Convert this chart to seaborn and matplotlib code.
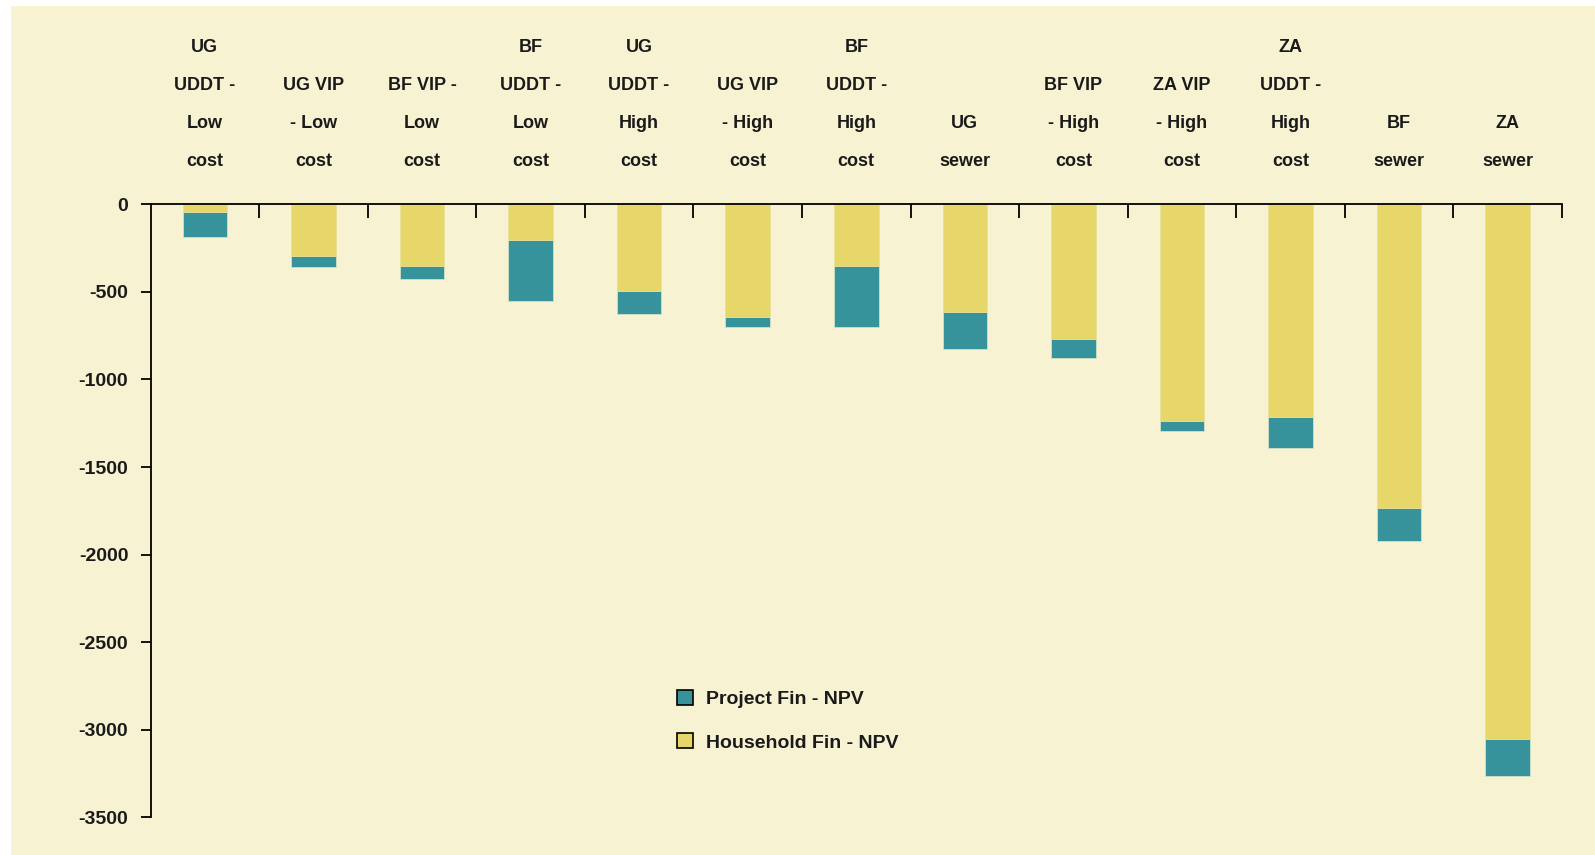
import numpy as np
import pandas as pd
import matplotlib
matplotlib.use("Agg")
import matplotlib.pyplot as plt
from matplotlib.patches import Patch, Rectangle
import seaborn as sns

# Sanitation options (country + technology + cost scenario)
categories = [
    "UG\nUDDT -\nLow\ncost",
    "UG VIP\n- Low\ncost",
    "BF VIP -\nLow\ncost",
    "BF\nUDDT -\nLow\ncost",
    "UG\nUDDT -\nHigh\ncost",
    "UG VIP\n- High\ncost",
    "BF\nUDDT -\nHigh\ncost",
    "UG\nsewer",
    "BF VIP\n- High\ncost",
    "ZA VIP\n- High\ncost",
    "ZA\nUDDT -\nHigh\ncost",
    "BF\nsewer",
    "ZA\nsewer",
]

# Net present values per option
household_npv = [-45, -297, -349, -202, -493, -642, -349, -615, -771, -1236, -1213, -1732, -3057]
project_npv = [-138, -59, -76, -352, -130, -59, -352, -210, -105, -61, -180, -188, -206]

y_ticks = [0, -500, -1000, -1500, -2000, -2500, -3000, -3500]
legend_labels = ["Project Fin - NPV", "Household Fin - NPV"]

TEAL = "#37939B"
YELLOW = "#E7D66A"
CREAM = "#F7F2D2"

sns.set_style("white")
plt.rcParams["font.family"] = ["Liberation Sans", "DejaVu Sans"]
plt.rcParams["axes.unicode_minus"] = False

df = pd.DataFrame({
    "option": categories,
    "household": household_npv,
    "project": project_npv,
})
df["total"] = df["household"] + df["project"]

fig = plt.figure(figsize=(15.95, 8.55), dpi=100, facecolor="white")
fig.patches.append(Rectangle((11 / 1595, 0), 1 - 11 / 1595, 1 - 6 / 855,
                             transform=fig.transFigure, facecolor=CREAM,
                             edgecolor="none", zorder=-10))

ax = fig.add_axes([150.5 / 1595, 1 - 817 / 855, (1562 - 150.5) / 1595, (817 - 204.5) / 855])
ax.set_facecolor("none")
ax.set_zorder(1)

# Stacked bars: full depth in teal, household share drawn over it in yellow
sns.barplot(data=df, x="option", y="total", order=categories, color=TEAL,
            saturation=1, width=0.41, errorbar=None, ax=ax,
            edgecolor="#cfe2c6", linewidth=0.6)
sns.barplot(data=df, x="option", y="household", order=categories, color=YELLOW,
            saturation=1, width=0.41, errorbar=None, ax=ax,
            edgecolor="#efe39a", linewidth=0.6)

ax.set_xlim(-0.5, len(categories) - 0.5)
ax.set_ylim(-3500, 0)
ax.set_xlabel("")
ax.set_ylabel("")

# Spines: left axis and the zero line along the top
for side in ["bottom", "right"]:
    ax.spines[side].set_visible(False)
for side in ["top", "left"]:
    ax.spines[side].set_visible(True)
    ax.spines[side].set_color("black")
    ax.spines[side].set_linewidth(1.3)

# Category labels above the zero line, separator ticks between categories
ax.xaxis.tick_top()
ax.set_xticks(range(len(categories)))
ax.set_xticklabels(categories)
ax.set_xticks(np.arange(0.5, len(categories) - 0.5 + 0.01, 1), minor=True)
ax.tick_params(axis="x", which="major", top=True, bottom=False, length=0, pad=25,
               labelsize=13)
ax.tick_params(axis="x", which="minor", top=True, bottom=False, direction="in",
               length=10, width=1.3, color="black")
for lbl in ax.get_xticklabels():
    lbl.set_linespacing(2.6)
    lbl.set_multialignment("center")
    lbl.set_fontweight("bold")
    lbl.set_color("#1a1a1a")

ax.set_yticks(y_ticks)
ax.set_yticklabels([str(v) for v in y_ticks])
ax.tick_params(axis="y", which="major", left=True, direction="out", length=7,
               width=1.3, pad=9, labelsize=14, color="black")
for lbl in ax.get_yticklabels():
    lbl.set_fontweight("bold")
    lbl.set_color("#1a1a1a")

handles = [
    Patch(facecolor=TEAL, edgecolor="black", linewidth=1.2),
    Patch(facecolor=YELLOW, edgecolor="black", linewidth=1.2),
]
leg = fig.legend(handles, legend_labels, loc="upper left",
                 bbox_to_anchor=(677 / 1595, 1 - 690 / 855),
                 bbox_transform=fig.transFigure, frameon=False,
                 handlelength=0.8, handleheight=0.8, handletextpad=0.7,
                 labelspacing=1.3, borderpad=0, borderaxespad=0,
                 prop={"size": 14, "weight": "bold"})
for t in leg.get_texts():
    t.set_color("#1a1a1a")

fig.savefig("out.png", dpi=100, facecolor="white")
